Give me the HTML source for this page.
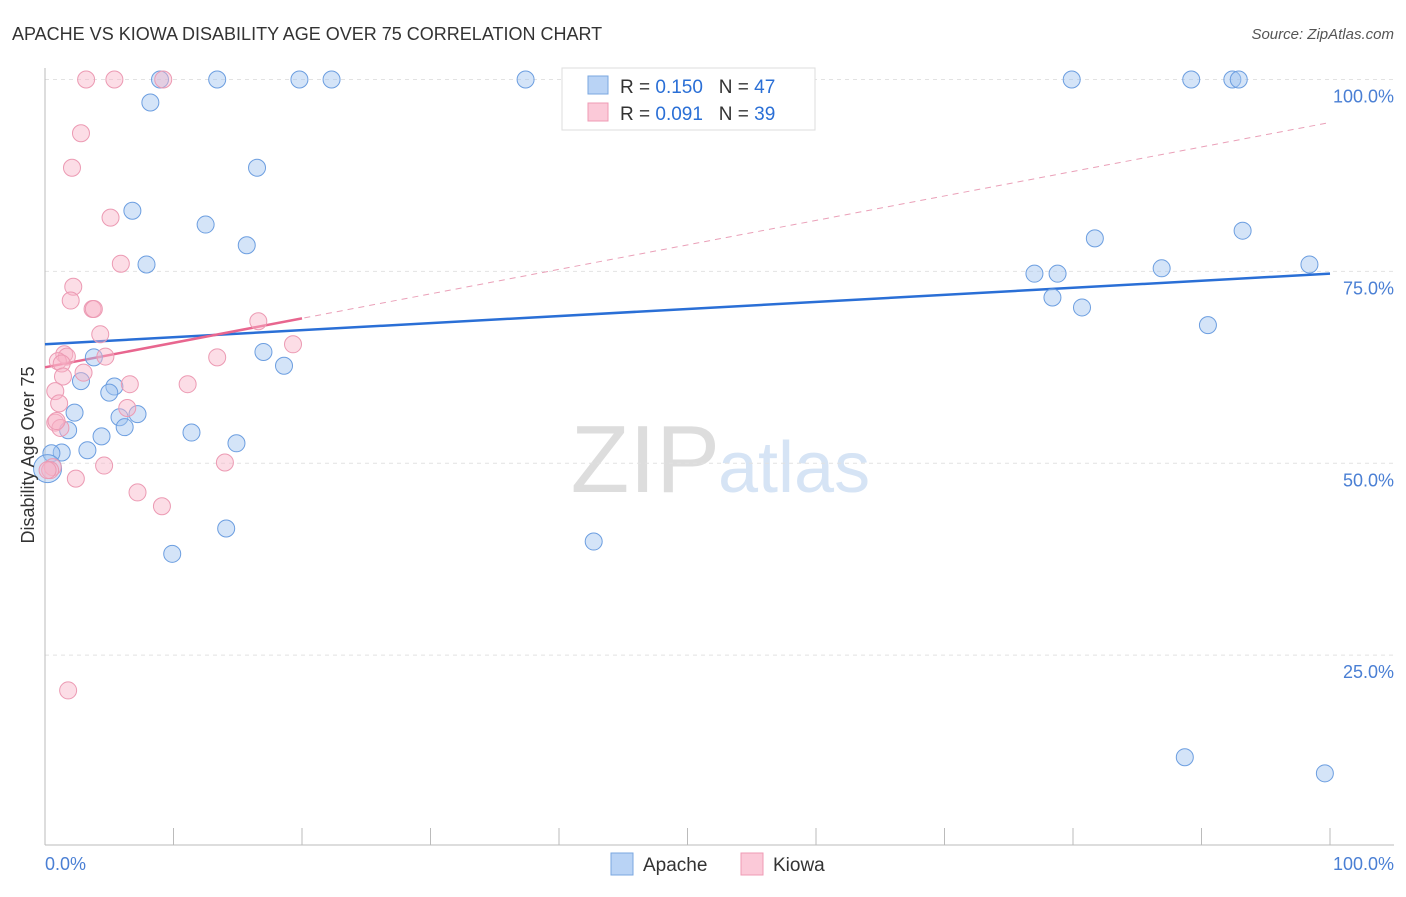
<!DOCTYPE html>
<html><head><meta charset="utf-8"><style>
body{margin:0;background:#fff;font-family:"Liberation Sans",sans-serif;}
svg text{font-family:"Liberation Sans",sans-serif;}
</style></head><body>
<svg id="chart" width="1406" height="892" viewBox="0 0 1406 892" xmlns="http://www.w3.org/2000/svg">
<text x="12" y="40" font-size="18" fill="#333">APACHE VS KIOWA DISABILITY AGE OVER 75 CORRELATION CHART</text>
<text x="1394" y="39" font-size="15" fill="#555" text-anchor="end" font-style="italic">Source: ZipAtlas.com</text>
<text x="720" y="492" font-size="96" fill="#ddd" text-anchor="end" font-family="Liberation Serif">ZIP</text>
<text x="718" y="492" font-size="72" fill="#d6e4f5">atlas</text>
<g id="grid"></g>
<g id="axes"></g>
<g id="trends"></g>
<g id="points"></g>
<text transform="translate(34,455) rotate(-90)" font-size="18" fill="#333" text-anchor="middle">Disability Age Over 75</text>
<text x="45" y="870" font-size="18" fill="#4a7fd4">0.0%</text>
<text x="1394" y="870" font-size="18" fill="#4a7fd4" text-anchor="end">100.0%</text>
<g>
<rect x="562" y="68" width="253" height="62" fill="#fff" stroke="#ddd"/>
<rect x="588" y="76" width="20" height="18" fill="#b9d3f5" stroke="#7aa7e0"/>
<rect x="588" y="103" width="20" height="18" fill="#fbc9d8" stroke="#ef9bb5"/>
<text x="620" y="93" font-size="19" fill="#333">R = <tspan fill="#2a6fd6">0.150</tspan>&#160;&#160;&#160;N = <tspan fill="#2a6fd6">47</tspan></text>
<text x="620" y="120" font-size="19" fill="#333">R = <tspan fill="#2a6fd6">0.091</tspan>&#160;&#160;&#160;N = <tspan fill="#2a6fd6">39</tspan></text>
</g>
<g>
<rect x="611" y="853" width="22" height="22" fill="#b9d3f5" stroke="#7aa7e0"/>
<text x="643" y="871" font-size="19" fill="#333">Apache</text>
<rect x="741" y="853" width="22" height="22" fill="#fbc9d8" stroke="#ef9bb5"/>
<text x="773" y="871" font-size="19" fill="#333">Kiowa</text>
</g>
</svg>
<script>
const yTicks=[25,50,75,100];
const yTickLabels=["25.0%","50.0%","75.0%","100.0%"];
const apacheX=[8.95,13.4,19.8,22.3,37.4,79.9,89.2,92.4,92.9,8.2,16.5,6.8,12.5,15.7,7.9,81.7,93.2,77.0,78.8,86.9,98.4,78.4,80.7,90.5,3.8,17.0,18.6,2.8,5.4,5.0,2.3,7.2,5.8,1.8,6.2,4.4,11.4,14.9,3.3,1.3,0.5,0.2,14.1,9.9,42.7,88.7,99.6];
const apacheY=[100,100,100,100,100,100,100,100,100,97.0,88.5,82.9,81.1,78.4,75.9,79.3,80.3,74.7,74.7,75.4,75.9,71.6,70.3,68.0,63.8,64.5,62.7,60.7,60.0,59.2,56.6,56.4,56.0,54.3,54.7,53.5,54.0,52.6,51.7,51.4,51.3,49.3,41.5,38.2,39.8,11.7,9.6];
const kiowaX=[3.2,5.4,9.2,2.8,2.1,5.1,5.9,2.2,2.0,3.7,3.8,4.3,16.6,19.3,1.5,1.7,4.7,13.4,1.0,1.3,3.0,1.4,0.8,6.6,11.1,1.1,6.4,0.8,1.2,4.6,14.0,0.6,0.4,2.4,7.2,9.1,1.8,0.2,0.9];
const kiowaY=[100,100,100,93.0,88.5,82.0,76.0,73.0,71.2,70.1,70.1,66.8,68.5,65.5,64.2,63.9,63.9,63.8,63.3,63.0,61.8,61.3,59.4,60.3,60.3,57.8,57.2,55.3,54.6,49.7,50.1,49.5,49.1,48.0,46.2,44.4,20.4,49.1,55.5];
const apacheTrend=[65.5,74.7];
const kiowaTrend=[62.5,94.4];
const NS="http://www.w3.org/2000/svg";
const X=v=>45+v*12.85, Y=v=>847-v*7.675;
function mk(tag,attrs,parent){const e=document.createElementNS(NS,tag);for(const k in attrs)e.setAttribute(k,attrs[k]);document.getElementById(parent).appendChild(e);return e;}
yTicks.forEach((t,i)=>{
 const l=mk('line',{x1:45,x2:1394,y1:Y(t),y2:Y(t),stroke:'#e2e2e2','stroke-dasharray':'4,4'},'grid');
 
 
 const tx=mk('text',{x:1394,y:Y(t)+23,'font-size':18,fill:'#4a7fd4','text-anchor':'end'},'grid');
 tx.textContent=yTickLabels[i];
 
 
});
const ax=mk('line',{x1:45,x2:1394,y1:845,y2:845,stroke:'#bbb'},'axes');


const ay=mk('line',{x1:45,x2:45,y1:68,y2:845,stroke:'#bbb'},'axes');


for(let i=0;i<=10;i++){const t=mk('line',{x1:X(i*10),x2:X(i*10),y1:828,y2:845,stroke:'#bbb'},'axes');
 
 }
const at=mk('line',{x1:X(0),y1:Y(apacheTrend[0]),x2:X(100),y2:Y(apacheTrend[1]),stroke:'#2a6fd6','stroke-width':2.5},'trends');


const kd=mk('line',{x1:X(0),y1:Y(kiowaTrend[0]),x2:X(100),y2:Y(kiowaTrend[1]),stroke:'#eaa0b8','stroke-width':1,'stroke-dasharray':'6,5'},'trends');


const k20=kiowaTrend[0]+(kiowaTrend[1]-kiowaTrend[0])*0.2;
const ks=mk('line',{x1:X(0),y1:Y(kiowaTrend[0]),x2:X(20),y2:Y(k20),stroke:'#e8668f','stroke-width':2.5},'trends');


apacheX.forEach((x,i)=>{const c=mk('circle',{cx:X(x),cy:Y(apacheY[i]),r:i==41?14:8.5,fill:'rgba(160,196,240,0.45)',stroke:'#6c9ee0','stroke-width':1},'points');
 
 });
kiowaX.forEach((x,i)=>{const c=mk('circle',{cx:X(x),cy:Y(kiowaY[i]),r:8.5,fill:'rgba(248,180,200,0.45)',stroke:'#ec9ab3','stroke-width':1},'points');
 
 });
</script>
</body></html>
